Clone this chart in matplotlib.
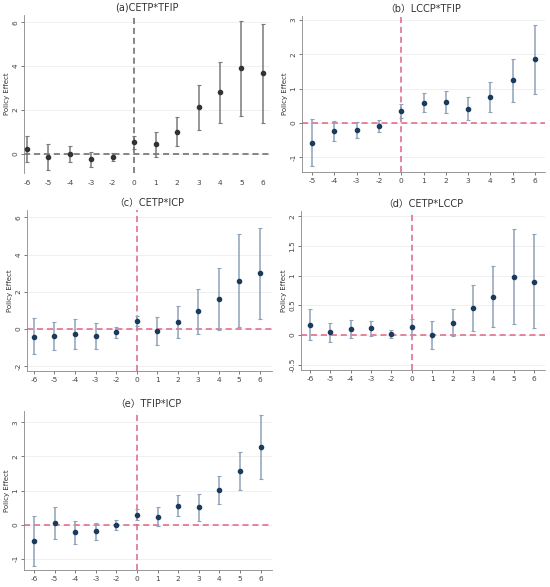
import numpy as np
import matplotlib
matplotlib.use('Agg')
import matplotlib.pyplot as plt

plt.rcParams['font.family'] = ['DejaVu Sans', 'Noto Sans CJK SC']

# event-time labels (no -1 period)
periods_a = ['-6', '-5', '-4', '-3', '-2', '0', '1', '2', '3', '4', '5', '6']
periods_b = ['-5', '-4', '-3', '-2', '0', '1', '2', '3', '4', '5', '6']

# (a) CETP*TFIP
coef_a = [0.23, -0.15, 0.00, -0.24, -0.12, 0.52, 0.44, 1.02, 2.13, 2.80, 3.90, 3.68]
up_a = [0.82, 0.43, 0.36, 0.10, 0.06, 0.82, 0.99, 1.67, 3.15, 4.18, 6.06, 5.93]
lo_a = [-0.38, -0.73, -0.35, -0.58, -0.32, 0.21, -0.12, 0.36, 1.11, 1.40, 1.73, 1.41]

# (b) LCCP*TFIP
coef_b = [-0.58, -0.24, -0.21, -0.10, 0.34, 0.58, 0.61, 0.41, 0.74, 1.25, 1.86]
up_b = [0.12, 0.05, 0.01, 0.07, 0.56, 0.86, 0.94, 0.74, 1.20, 1.87, 2.87]
lo_b = [-1.27, -0.54, -0.44, -0.27, 0.13, 0.30, 0.29, 0.07, 0.30, 0.62, 0.85]

# (c) CETP*ICP
coef_c = [-0.41, -0.39, -0.27, -0.39, -0.18, 0.43, -0.11, 0.39, 0.95, 1.61, 2.60, 2.99]
up_c = [0.57, 0.38, 0.54, 0.30, 0.09, 0.72, 0.63, 1.25, 2.17, 3.26, 5.13, 5.45]
lo_c = [-1.36, -1.15, -1.08, -1.08, -0.47, 0.16, -0.86, -0.47, -0.29, -0.05, 0.09, 0.54]

# (d) CETP*LCCP
coef_d = [0.17, 0.05, 0.10, 0.11, 0.02, 0.14, 0.00, 0.20, 0.45, 0.64, 0.98, 0.90]
up_d = [0.44, 0.21, 0.25, 0.24, 0.08, 0.27, 0.23, 0.43, 0.85, 1.16, 1.78, 1.71]
lo_d = [-0.09, -0.12, -0.05, -0.01, -0.05, 0.00, -0.23, -0.02, 0.06, 0.13, 0.19, 0.11]

# (e) TFIP*ICP
coef_e = [-0.47, 0.04, -0.22, -0.20, -0.01, 0.29, 0.22, 0.56, 0.51, 1.02, 1.58, 2.27]
up_e = [0.26, 0.51, 0.11, 0.06, 0.15, 0.45, 0.51, 0.87, 0.89, 1.43, 2.13, 3.22]
lo_e = [-1.20, -0.43, -0.57, -0.46, -0.16, 0.15, -0.05, 0.24, 0.12, 0.61, 1.02, 1.33]

W, H = 550, 587
fig = plt.figure(figsize=(5.5, 5.87), dpi=100)


def add_panel(box, title, labels, coef, up, lo, xlim, ylim, yticks, style):
    # box in pixels: left, top, right, bottom
    l, t, r, b = box
    ax = fig.add_axes([l / W, 1 - b / H, (r - l) / W, (b - t) / H])
    x = np.arange(len(labels))
    coef = np.array(coef)
    err = [coef - np.array(lo), np.array(up) - coef]
    if style == 'gray':
        mc, ec, lc = '#333333', '#7a7a7a', '#666666'
    else:
        mc, ec, lc = '#1b3a5c', '#8ea3b8', '#dc6683'
    ax.errorbar(x, coef, yerr=err, fmt='o', color=mc, ms=3.0, ecolor=ec,
                elinewidth=1.1, capsize=1.6, capthick=0.8, zorder=3)
    i0 = labels.index('0')
    ax.axhline(0, color=lc, ls='--', lw=1.1, dashes=(4, 2.5), zorder=2)
    ax.axvline(i0, color=lc, ls='--', lw=1.1, dashes=(4, 2.5), zorder=2)
    ax.set_xlim(*xlim)
    ax.set_ylim(*ylim)
    ax.set_xticks(x)
    ax.set_xticklabels(labels)
    ax.set_yticks(yticks)
    ax.set_yticklabels([('%g' % v) for v in yticks], rotation=90, va='center')
    ax.grid(axis='y', color='#eeeeee', lw=0.6, zorder=0)
    ax.tick_params(axis='both', labelsize=5.3, length=2, width=0.5,
                   colors='#444444', pad=2)
    ax.spines['top'].set_visible(False)
    ax.spines['right'].set_visible(False)
    ax.spines['left'].set_color('#888888')
    ax.spines['left'].set_linewidth(0.6)
    if style == 'gray':
        ax.spines['bottom'].set_visible(False)
        ax.tick_params(axis='x', length=0, pad=5)
    else:
        ax.spines['bottom'].set_color('#888888')
        ax.spines['bottom'].set_linewidth(0.6)
    ax.set_ylabel('Policy Effect', fontsize=5, color='#333333', labelpad=2)
    ax.set_title(title, fontsize=7, color='#333333', pad=3,
                 family=['DejaVu Sans', 'Noto Sans CJK SC'])
    return ax


add_panel((24, 15, 270, 173), '(a)CETP*TFIP', periods_a, coef_a, up_a, lo_a,
          (-0.14, 11.33), (-0.87, 6.33), [0, 2, 4, 6], 'gray')
add_panel((302, 16, 545, 172), '\uff08b\uff09LCCP*TFIP', periods_b, coef_b, up_b, lo_b,
          (-0.45, 10.45), (-1.44, 3.12), [-1, 0, 1, 2, 3], 'blue')
add_panel((27, 210, 272, 371), '\uff08c\uff09CETP*ICP', periods_a, coef_c, up_c, lo_c,
          (-0.34, 11.6), (-2.26, 6.4), [-2, 0, 2, 4, 6], 'blue')
add_panel((301, 211, 545, 370), '\uff08d\uff09CETP*LCCP', periods_a, coef_d, up_d, lo_d,
          (-0.44, 11.54), (-0.59, 2.09), [-0.5, 0, 0.5, 1, 1.5, 2], 'blue')
add_panel((24, 411, 272, 570), '\uff08e\uff09TFIP*ICP', periods_a, coef_e, up_e, lo_e,
          (-0.49, 11.55), (-1.33, 3.33), [-1, 0, 1, 2, 3], 'blue')

fig.savefig('out.png', dpi=100)
